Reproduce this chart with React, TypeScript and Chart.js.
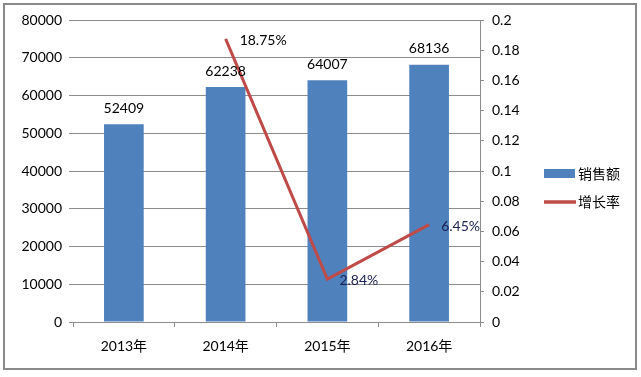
import React, { useEffect, useRef } from "react";
import { Chart, registerables } from "chart.js";

Chart.register(...registerables);

const categories = ["2013年", "2014年", "2015年", "2016年"];
const sales = [52409, 62238, 64007, 68136];
const growth = [null, 0.1875, 0.0284, 0.0645];
const growthLabels = ["", "18.75%", "2.84%", "6.45%"];
const seriesNames = ["销售额", "增长率"];

const BAR = "#4F81BD";
const LINE = "#BE4B48";
const GRID = "#8c8c8c";
const FONT = "Lato, 'Noto Sans CJK SC', sans-serif";

export default function App() {
  const ref = useRef<HTMLCanvasElement | null>(null);
  useEffect(() => {
    document.body.style.margin = "0";
    const labelPlugin = {
      id: "labels",
      afterDatasetsDraw(chart: any) {
        const ctx = chart.ctx;
        ctx.save();
        ctx.fillStyle = "#000";
        ctx.font = "14px " + FONT;
        ctx.textAlign = "center";
        ctx.textBaseline = "middle";
        const m0 = chart.getDatasetMeta(0);
        m0.data.forEach((el: any, i: number) => {
          ctx.fillText(String(sales[i]), el.x, el.y - 16);
        });
        const m1 = chart.getDatasetMeta(1);
        ctx.textAlign = "left";
        const offs = [
          [0, 0],
          [14, 2],
          [12, 1],
          [12, 2],
        ];
        m1.data.forEach((el: any, i: number) => {
          if (!growthLabels[i]) return;
          ctx.fillStyle = i === 1 ? "#000" : "#1a2050";
          ctx.fillText(growthLabels[i], el.x + offs[i][0], el.y + offs[i][1]);
        });
        // legend
        ctx.fillStyle = BAR;
        ctx.fillRect(544, 169, 31, 9);
        ctx.strokeStyle = LINE;
        ctx.lineWidth = 3.5;
        ctx.beginPath();
        ctx.moveTo(544, 202);
        ctx.lineTo(576, 202);
        ctx.stroke();
        ctx.fillStyle = "#000";
        ctx.font = "14px 'Noto Sans CJK SC', sans-serif";
        ctx.fillText(seriesNames[0], 578, 174);
        ctx.fillText(seriesNames[1], 578, 202);
        // outer border
        ctx.strokeStyle = "#8a8a8a";
        ctx.lineWidth = 2;
        ctx.strokeRect(4, 4, 632, 365);
        ctx.restore();
      },
    };
    const chart = new Chart(ref.current!, {
      type: "bar",
      data: {
        labels: categories,
        datasets: [
          {
            type: "bar",
            label: seriesNames[0],
            data: sales,
            backgroundColor: BAR,
            yAxisID: "y",
            categoryPercentage: 1,
            barPercentage: 0.39,
            order: 2,
          },
          {
            type: "line",
            label: seriesNames[1],
            data: growth as any,
            borderColor: LINE,
            borderWidth: 3,
            pointRadius: 0,
            tension: 0,
            yAxisID: "y1",
            order: 1,
          },
        ],
      },
      options: {
        animation: false,
        responsive: false,
        maintainAspectRatio: false,
        layout: { padding: { left: 0, right: 101, top: 20, bottom: 10 } },
        plugins: { legend: { display: false }, tooltip: { enabled: false } },
        scales: {
          x: {
            grid: {
              drawOnChartArea: false,
              drawTicks: true,
              tickLength: 5,
              color: GRID,
              offset: true,
            },
            border: { display: true, color: GRID, width: 1 },
            ticks: { color: "#000", font: { size: 14, family: FONT }, padding: 11 },
            afterFit(s: any) {
              s.height = 45;
            },
          },
          y: {
            position: "left",
            min: 0,
            max: 80000,
            ticks: {
              stepSize: 10000,
              color: "#000",
              font: { size: 14, family: FONT },
              padding: 7,
              callback: (v: any) => String(v),
            },
            grid: { color: GRID, tickLength: 4, drawTicks: true },
            border: { display: false },
            afterFit(s: any) {
              s.width = 73;
            },
          },
          y1: {
            position: "right",
            min: 0,
            max: 0.2,
            ticks: {
              stepSize: 0.02,
              color: "#000",
              font: { size: 14, family: FONT },
              padding: 8,
              callback: (v: any) => String(Math.round(Number(v) * 100) / 100),
            },
            grid: { drawOnChartArea: false, tickLength: 4, color: GRID },
            border: { display: true, color: GRID },
            afterFit(s: any) {
              s.width = 60;
            },
          },
        },
      },
      plugins: [labelPlugin],
    });
    return () => chart.destroy();
  }, []);
  return (
    <div style={{ position: "absolute", left: 0, top: 0, width: 641, height: 377, background: "#fff" }}>
      <canvas ref={ref} width={641} height={377} style={{ width: 641, height: 377 }} />
    </div>
  );
}
